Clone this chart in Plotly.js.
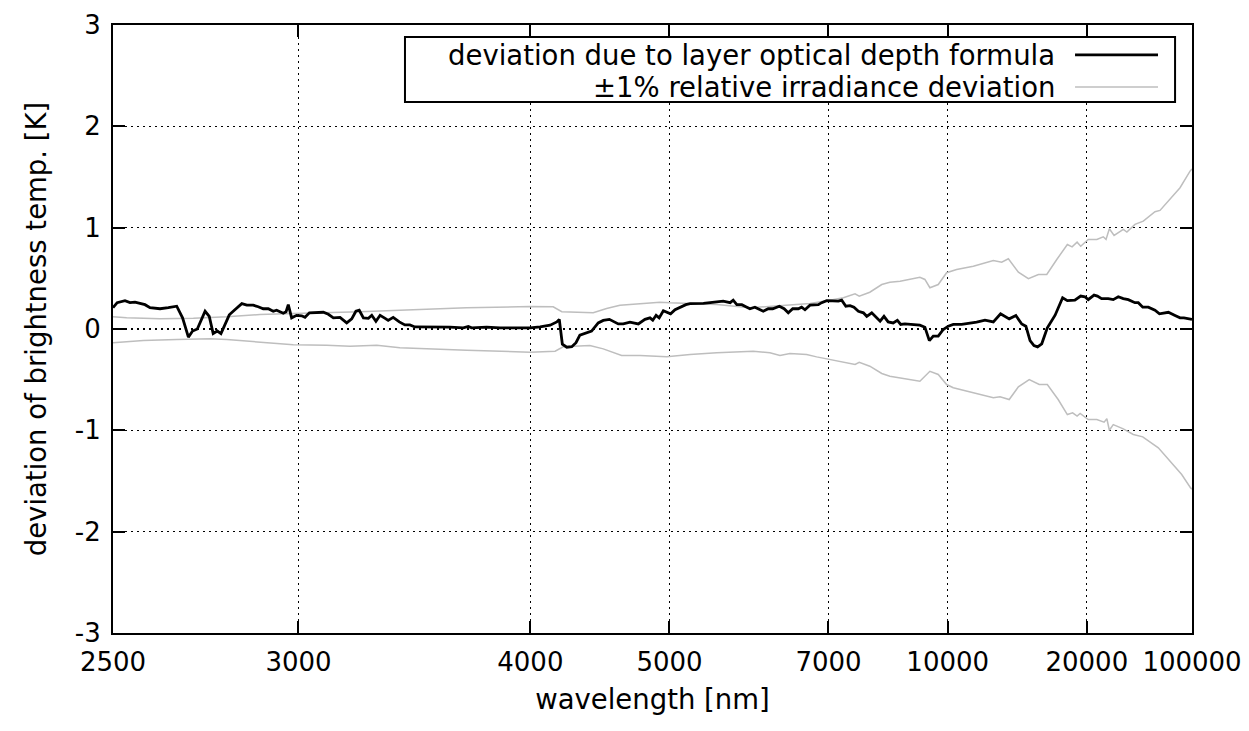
<!DOCTYPE html>
<html>
<head>
<meta charset="utf-8">
<script src="https://cdn.plot.ly/plotly-3.0.1.min.js"></script>
<style>
  html, body { margin: 0; padding: 0; background: #fff; }
  #chart { width: 1249px; height: 731px; }
</style>
</head>
<body>
<div id="chart"></div>
<script>
// x values are wavenumbers [cm^-1]; the axis is labelled in wavelength [nm]
const X_START = 4000;   // left end of axis (2500 nm)
const X_END = 122;      // right end of axis (labelled 100000)

const tickLabels = ['2500', '3000', '4000', '5000', '7000', '10000', '20000', '100000'];
const yTickLabels = ['-3', '-2', '-1', '0', '1', '2', '3'];

const seriesNames = ['deviation due to layer optical depth formula', '\u00b11% relative irradiance deviation'];

const devX = [
  4000,3985,3957,3939,3921,3903,3885,3867,3831,3801,
  3771,3750,3729,3714,3697,3669,3654,3640,3625,3612,
  3582,3562,3537,3519,3496,3478,3460,3442,3424,3412,
  3388,3378,3370,3358,3340,3322,3310,3294,3244,3226,
  3208,3184,3160,3142,3127,3115,3100,3082,3070,3055,
  3040,3022,3011,2993,2971,2951,2933,2915,2849,2789,
  2741,2723,2711,2657,2609,2549,2501,2465,2429,2405,
  2396,2385,2369,2351,2336,2322,2304,2280,2256,2238,
  2216,2184,2166,2142,2112,2088,2070,2060,2048,2037,
  2022,2010,1996,1980,1962,1941,1926,1902,1878,1854,
  1830,1807,1782,1771,1758,1740,1729,1711,1693,1681,
  1663,1645,1629,1605,1588,1573,1557,1537,1525,1513,
  1495,1465,1453,1435,1411,1393,1381,1366,1351,1337,
  1321,1303,1291,1273,1243,1229,1214,1196,1181,1169,
  1154,1130,1100,1082,1066,1052,1034,1016,998,980,
  950,926,896,866,836,810,779,755,734,719,
  704,690,677,662,642,614,587,570,543,522,
  507,495,474,462,447,423,405,387,369,351,
  327,315,299,279,255,239,207,183,165,151,
  122
];
const devY = [
  0.21,0.26,0.28,0.26,0.265,0.25,0.24,0.21,0.20,0.21,
  0.225,0.11,-0.08,-0.02,0.0,0.175,0.125,-0.045,-0.02,-0.045,
  0.14,0.19,0.25,0.235,0.235,0.22,0.20,0.20,0.175,0.185,
  0.155,0.17,0.24,0.11,0.135,0.13,0.115,0.16,0.165,0.145,
  0.11,0.115,0.06,0.10,0.175,0.185,0.11,0.105,0.135,0.075,
  0.135,0.105,0.085,0.115,0.07,0.04,0.04,0.02,0.02,0.018,
  0.012,0.025,0.012,0.018,0.012,0.012,0.012,0.022,0.038,0.07,
  0.095,-0.15,-0.18,-0.175,-0.135,-0.06,-0.04,-0.02,0.06,0.085,
  0.095,0.05,0.05,0.067,0.05,0.095,0.11,0.087,0.135,0.11,
  0.18,0.165,0.15,0.19,0.215,0.24,0.25,0.25,0.252,0.26,
  0.265,0.275,0.26,0.285,0.24,0.24,0.225,0.20,0.215,0.20,
  0.175,0.20,0.20,0.225,0.20,0.16,0.20,0.20,0.215,0.19,
  0.235,0.24,0.26,0.28,0.28,0.275,0.285,0.225,0.23,0.215,
  0.175,0.16,0.125,0.16,0.077,0.125,0.07,0.06,0.085,0.045,
  0.05,0.045,0.038,0.018,-0.115,-0.07,-0.07,-0.005,0.028,0.045,
  0.045,0.055,0.067,0.087,0.07,0.15,0.10,0.133,0.05,0.028,
  -0.115,-0.163,-0.176,-0.146,0.012,0.136,0.308,0.28,0.285,0.325,
  0.318,0.29,0.335,0.325,0.30,0.30,0.29,0.318,0.30,0.29,
  0.26,0.26,0.215,0.215,0.185,0.15,0.165,0.133,0.11,0.11,
  0.095
];

const upperX = [
  4000,3951,3831,3711,3591,3472,3352,3232,3112,2969,
  2729,2501,2418,2387,2346,2274,2226,2178,2106,2034,
  1998,1926,1890,1830,1711,1591,1495,1424,1375,1333,
  1318,1280,1237,1208,1171,1100,1082,1064,1034,1004,
  968,908,836,806,782,746,710,674,644,608,
  570,553,535,522,495,464,441,431,419,402,
  369,356,327,297,255,237,201,165,129,122
];
const upperY = [
  0.12,0.11,0.10,0.105,0.12,0.143,0.153,0.16,0.17,0.186,
  0.209,0.222,0.219,0.17,0.166,0.16,0.202,0.235,0.249,0.265,
  0.259,0.252,0.252,0.242,0.209,0.232,0.252,0.284,0.308,0.347,
  0.324,0.363,0.439,0.462,0.472,0.511,0.489,0.407,0.439,0.555,
  0.587,0.62,0.676,0.659,0.693,0.561,0.496,0.538,0.538,0.686,
  0.834,0.811,0.857,0.817,0.884,0.884,0.91,0.884,0.989,0.923,
  0.982,0.956,1.032,1.064,1.157,1.17,1.278,1.394,1.558,1.58
];

const lowerX = [
  4000,3891,3771,3651,3591,3472,3352,3232,3148,3052,
  3016,2969,2729,2501,2411,2382,2286,2238,2172,2106,
  2010,1926,1830,1771,1699,1639,1603,1567,1507,1471,
  1424,1363,1333,1318,1280,1237,1208,1100,1064,1034,
  1004,980,956,884,836,812,779,746,707,671,
  642,603,570,551,535,524,495,464,438,428,
  419,405,369,333,299,243,201,159,127,122
];
const lowerY = [
  -0.136,-0.114,-0.104,-0.097,-0.104,-0.126,-0.155,-0.16,-0.17,-0.16,
  -0.17,-0.185,-0.21,-0.229,-0.219,-0.176,-0.163,-0.196,-0.262,-0.262,
  -0.275,-0.252,-0.235,-0.229,-0.219,-0.235,-0.262,-0.242,-0.252,-0.275,
  -0.301,-0.334,-0.35,-0.328,-0.367,-0.439,-0.466,-0.515,-0.417,-0.449,
  -0.548,-0.58,-0.597,-0.647,-0.679,-0.669,-0.696,-0.571,-0.499,-0.548,
  -0.548,-0.696,-0.844,-0.827,-0.86,-0.834,-0.893,-0.893,-0.92,-0.886,
  -0.999,-0.943,-0.985,-1.041,-1.064,-1.173,-1.305,-1.436,-1.568,-1.58
];

const FONT = 'DejaVu Sans, sans-serif';
const FS_TICK = 26;
const FS_TEXT = 27.5;
const BLACK = '#000000';
const GRAY = '#bebebe';

const xTickVals = tickLabels.map((t, i) => i === tickLabels.length - 1 ? X_END : 1e7 / Number(t));
const yTickVals = yTickLabels.map(Number);

const traces = [
  { x: upperX, y: upperY, type: 'scatter', mode: 'lines', name: seriesNames[1],
    line: { color: GRAY, width: 1.5 }, showlegend: false, hoverinfo: 'skip' },
  { x: lowerX, y: lowerY, type: 'scatter', mode: 'lines', name: seriesNames[1],
    line: { color: GRAY, width: 1.5 }, showlegend: false, hoverinfo: 'skip' },
  { x: devX, y: devY, type: 'scatter', mode: 'lines', name: seriesNames[0],
    line: { color: BLACK, width: 2.8 }, showlegend: false, hoverinfo: 'skip' }
];

// legend box geometry (paper coordinates)
const LG = { x0: 0.2706, x1: 0.9843, y0: 0.8734, y1: 0.9803,
             textX: 0.8749, lineX0: 0.8916, lineX1: 0.9685, row1: 0.9507, row2: 0.8980 };

const layout = {
  width: 1249, height: 731,
  margin: { l: 113, r: 57, t: 25, b: 98, pad: 0 },
  paper_bgcolor: '#ffffff', plot_bgcolor: '#ffffff',
  font: { family: FONT, size: FS_TICK, color: BLACK },
  showlegend: false,
  xaxis: {
    type: 'linear', range: [X_START, X_END],
    tickmode: 'array', tickvals: xTickVals, ticktext: tickLabels,
    ticks: 'inside', ticklen: 12, tickwidth: 2, tickcolor: BLACK,
    ticklabelstandoff: 5,
    showline: true, linewidth: 2, linecolor: BLACK, mirror: 'ticks',
    showgrid: true, gridcolor: BLACK, gridwidth: 1.3, griddash: '2px,4px',
    zeroline: false,
    tickfont: { family: FONT, size: FS_TICK, color: BLACK },
    title: { text: 'wavelength [nm]', font: { family: FONT, size: FS_TEXT, color: BLACK }, standoff: 14 },
    automargin: false
  },
  yaxis: {
    type: 'linear', range: [-3, 3],
    tickmode: 'array', tickvals: yTickVals, ticktext: yTickLabels,
    ticks: 'inside', ticklen: 12, tickwidth: 2, tickcolor: BLACK,
    ticklabelstandoff: 5,
    showline: true, linewidth: 2, linecolor: BLACK, mirror: 'ticks',
    showgrid: true, gridcolor: BLACK, gridwidth: 1.3, griddash: '2px,4px',
    zeroline: false,
    tickfont: { family: FONT, size: FS_TICK, color: BLACK },
    title: { text: 'deviation of brightness temp. [K]', font: { family: FONT, size: FS_TEXT, color: BLACK }, standoff: 20 },
    automargin: false
  },
  shapes: [
    { type: 'rect', xref: 'paper', yref: 'paper', x0: LG.x0, x1: LG.x1, y0: LG.y0, y1: LG.y1,
      line: { color: BLACK, width: 2 }, fillcolor: '#ffffff', layer: 'above' },
    { type: 'line', xref: 'paper', yref: 'paper', x0: LG.lineX0, x1: LG.lineX1, y0: LG.row1, y1: LG.row1,
      line: { color: BLACK, width: 2.8 }, layer: 'above' },
    { type: 'line', xref: 'paper', yref: 'paper', x0: LG.lineX0, x1: LG.lineX1, y0: LG.row2, y1: LG.row2,
      line: { color: GRAY, width: 1.5 }, layer: 'above' }
  ],
  annotations: [
    { xref: 'paper', yref: 'paper', x: LG.textX, y: LG.row1, xanchor: 'right', yanchor: 'middle',
      text: seriesNames[0], showarrow: false, font: { family: FONT, size: FS_TEXT, color: BLACK } },
    { xref: 'paper', yref: 'paper', x: LG.textX, y: LG.row2, xanchor: 'right', yanchor: 'middle',
      text: seriesNames[1], showarrow: false, font: { family: FONT, size: FS_TEXT, color: BLACK } }
  ]
};

Plotly.newPlot('chart', traces, layout, { staticPlot: true, displayModeBar: false });
</script>
</body>
</html>
